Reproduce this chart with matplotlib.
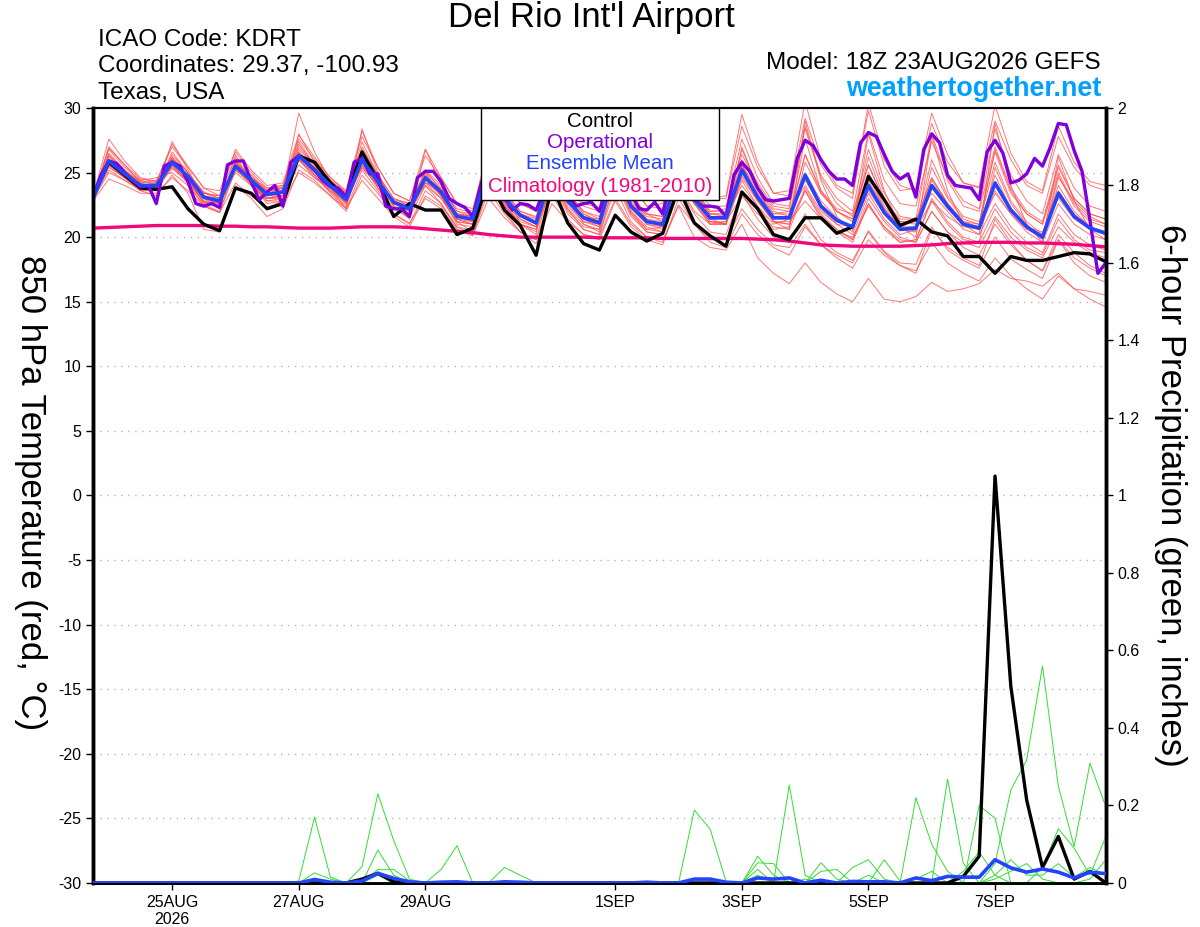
import numpy as np
import pandas as pd
import matplotlib
matplotlib.use("Agg")
import matplotlib.pyplot as plt
from matplotlib.patches import Rectangle
from matplotlib.ticker import FuncFormatter

plt.rcParams['font.family'] = ['Liberation Sans', 'DejaVu Sans']
plt.rcParams['axes.unicode_minus'] = False

# time axis: GEFS 18Z 23AUG2026, 6-hourly (ensemble) and 3-hourly (operational)
times = pd.date_range('2026-08-23 18:00', periods=65, freq='6h')
times_op = pd.date_range('2026-08-23 18:00', periods=129, freq='3h')

tick_dates = pd.to_datetime(['2026-08-25', '2026-08-27', '2026-08-29', '2026-09-01',
                             '2026-09-03', '2026-09-05', '2026-09-07'])
tick_labels = ['25AUG\n2026', '27AUG', '29AUG', '1SEP', '3SEP', '5SEP', '7SEP']

# 850 hPa temperature (C)
control_t = [23.2,
             25.8, 24.8, 23.8, 23.7, 23.9, 22.2, 21.0, 20.5, 23.8, 23.4, 22.2, 22.6,
             26.3, 25.8, 24.2, 23.1, 26.6, 24.4, 21.6, 22.6, 22.1, 22.1, 20.2, 20.7,
             24.5, 22.1, 20.9, 18.6, 24.0, 21.1, 19.5, 19.0, 21.7, 20.4, 19.7, 20.3,
             23.8, 21.1, 20.1, 19.3, 23.5, 22.2, 20.2, 19.8, 21.5, 21.5, 20.3, 20.8,
             24.7, 22.9, 20.9, 21.4, 20.4, 20.1, 18.5, 18.5, 17.2, 18.5, 18.2, 18.2,
             18.5, 18.8, 18.7, 18.1]

oper_t = [23.1, 24.8, 25.9, 25.7, 25.0, 24.4, 23.9, 24.0, 22.6, 25.5, 25.8, 25.5, 24.3,
          22.6, 22.4, 22.6, 22.3, 25.6, 25.9, 25.9, 24.3, 22.9, 23.5, 24.0, 22.4, 25.8,
          26.3, 25.8, 25.2, 24.4, 23.9, 23.8, 23.1, 25.8, 26.1, 24.9, 24.9, 22.4, 22.2,
          22.2, 21.6, 24.6, 25.1, 25.1, 24.3, 23.0, 22.6, 22.3, 21.6, 24.0, 26.0, 25.5,
          23.0, 22.1, 22.6, 22.5, 22.1, 23.5, 25.5, 25.5, 23.3, 22.4, 22.6, 22.7, 22.0,
          24.0, 25.8, 25.5, 23.4, 22.2, 22.1, 22.7, 21.8, 24.5, 25.8, 23.7, 22.9, 22.4,
          22.4, 22.3, 21.6, 24.8, 25.8, 25.1, 23.8, 22.9, 22.8, 22.9, 23.0, 26.1, 27.5,
          27.1, 26.0, 25.1, 24.5, 24.5, 24.0, 27.3, 28.1, 27.8, 26.4, 25.1, 24.5, 24.9,
          23.1, 26.8, 28.0, 27.3, 24.8, 24.0, 23.9, 23.8, 22.9, 26.6, 27.5, 26.5, 24.2,
          24.4, 24.9, 26.1, 25.5, 27.0, 28.8, 28.7, 26.7, 25.1, 21.3, 17.2, 18.0]

mean_t = [23.0,
          25.9, 24.9, 24.0, 24.0, 25.8, 24.7, 23.1, 22.8, 25.5, 24.4, 23.3, 23.5,
          26.3, 25.2, 24.0, 22.9, 26.0, 24.3, 22.7, 22.2, 24.6, 23.5, 21.6, 21.4,
          25.3, 23.0, 21.7, 21.1, 25.0, 22.8, 21.5, 21.1, 25.3, 22.4, 21.2, 21.0,
          25.0, 22.9, 21.5, 21.5, 25.2, 23.1, 21.5, 21.5, 24.8, 22.4, 21.3, 20.8,
          24.0, 21.9, 20.6, 20.7, 24.0, 22.4, 21.0, 20.7, 24.2, 22.1, 20.8, 20.0,
          23.4, 21.6, 20.7, 20.3]

clim_t = [20.7,
          20.75, 20.8, 20.85, 20.9, 20.9, 20.9, 20.9, 20.85, 20.85, 20.8, 20.8, 20.75,
          20.7, 20.7, 20.7, 20.75, 20.8, 20.8, 20.8, 20.75, 20.65, 20.55, 20.45, 20.35,
          20.2, 20.1, 20.0, 20.0, 20.0, 20.0, 20.0, 19.95, 19.95, 19.95, 19.95, 19.9,
          19.9, 19.9, 19.9, 19.9, 19.9, 19.85, 19.8, 19.7, 19.55, 19.4, 19.35, 19.3,
          19.3, 19.3, 19.3, 19.35, 19.4, 19.5, 19.55, 19.6, 19.6, 19.6, 19.55, 19.55,
          19.5, 19.45, 19.35, 19.25]

members_t = [
    [23.2, 27.6, 25.9, 24.6, 24.3, 27.2, 25.5, 23.8, 23.2, 26.8, 25.2, 24.0, 24.2, 27.9, 26.2, 24.6, 23.5,
     28.2, 25.4, 23.4, 22.8, 26.3, 24.6, 22.5, 22.0, 27.2, 24.5, 22.6, 22.0, 27.4, 24.4, 22.6, 22.3,
     28.0, 24.2, 22.4, 22.6, 28.3, 25.0, 23.0, 23.2, 29.5, 25.8, 23.4, 23.6, 30.5, 26.0, 24.0, 23.4,
     29.8, 25.5, 23.6, 23.8, 29.6, 26.4, 24.2, 23.9, 30.2, 26.5, 24.3, 23.6, 28.6, 25.8, 24.3, 24.0],
    [22.8, 24.5, 24.0, 23.4, 23.4, 24.6, 23.6, 22.4, 21.9, 24.2, 23.2, 22.3, 22.8, 25.0, 24.2, 23.2, 22.0,
     24.8, 23.4, 21.8, 21.1, 23.0, 22.2, 20.5, 20.1, 23.0, 21.5, 20.4, 19.5, 22.6, 21.2, 20.2, 20.0,
     23.0, 21.0, 20.0, 19.6, 22.5, 21.0, 19.8, 19.8, 22.2, 20.6, 19.4, 19.2, 21.0, 19.4, 18.6, 18.0,
     20.5, 18.9, 18.0, 17.9, 20.8, 19.0, 18.2, 17.6, 20.0, 18.3, 17.5, 16.8, 19.8, 18.0, 17.0, 16.5],
    [23.0, 26.5, 25.2, 24.2, 23.8, 26.2, 24.5, 22.7, 22.4, 25.8, 24.0, 22.8, 23.0, 26.5, 24.8, 23.5, 22.4,
     26.0, 23.8, 22.2, 21.5, 24.0, 22.6, 20.8, 20.5, 24.4, 22.4, 21.0, 20.4, 24.2, 21.8, 20.6, 20.2,
     23.8, 21.2, 20.0, 19.8, 22.4, 20.0, 19.2, 19.0, 21.0, 18.4, 17.2, 16.4, 18.0, 16.5, 15.6, 15.0,
     16.8, 15.2, 15.0, 15.4, 16.5, 15.8, 16.0, 16.4, 17.5, 16.8, 16.6, 16.2, 17.2, 16.0, 15.8, 15.5],
    [23.1, 26.2, 25.0, 24.3, 24.2, 25.6, 24.9, 23.5, 23.0, 25.2, 24.8, 23.6, 23.9, 26.0, 25.4, 24.4, 23.4,
     25.4, 24.0, 22.9, 22.6, 24.2, 23.8, 22.2, 21.9, 26.0, 23.6, 22.0, 21.5, 25.8, 23.4, 22.0, 21.4,
     26.4, 23.0, 21.8, 21.2, 26.2, 23.8, 22.0, 22.0, 26.8, 24.0, 22.2, 22.0, 25.0, 22.8, 21.5, 20.6,
     24.8, 22.2, 20.8, 20.5, 25.4, 23.0, 21.4, 21.0, 25.8, 22.8, 21.2, 20.2, 24.8, 22.4, 21.2, 20.8],
    [22.9, 25.4, 24.6, 23.8, 23.8, 26.1, 24.4, 22.7, 22.3, 25.9, 24.2, 23.0, 23.2, 27.2, 25.6, 24.0, 22.6,
     27.0, 24.8, 22.4, 21.6, 25.0, 23.2, 21.0, 20.8, 24.6, 22.4, 21.2, 20.8, 26.2, 23.4, 21.8, 21.2,
     25.8, 22.6, 21.0, 20.6, 24.0, 22.0, 21.0, 21.2, 23.2, 21.8, 20.8, 20.6, 23.6, 21.4, 20.4, 19.6,
     22.6, 20.6, 19.6, 19.8, 23.0, 21.2, 20.0, 19.6, 25.4, 22.6, 21.0, 19.8, 24.6, 22.8, 21.6, 21.0],
    [23.0, 25.8, 25.1, 24.4, 24.6, 25.0, 24.0, 22.5, 22.0, 25.4, 24.6, 23.8, 24.0, 26.6, 25.4, 24.2, 23.0,
     26.5, 24.6, 22.6, 22.0, 24.8, 23.2, 21.4, 21.0, 25.6, 23.2, 21.6, 21.0, 24.4, 22.6, 21.2, 20.8,
     25.0, 22.0, 20.8, 20.4, 25.6, 23.4, 21.8, 21.6, 24.0, 22.4, 21.0, 21.4, 26.4, 23.6, 22.2, 21.8,
     25.6, 22.8, 21.4, 21.4, 23.4, 22.0, 20.6, 20.2, 22.6, 20.8, 19.6, 18.8, 21.8, 20.2, 19.4, 19.0],
    [23.1, 26.4, 25.0, 23.9, 23.6, 26.6, 25.0, 23.4, 23.2, 26.2, 24.2, 22.8, 22.8, 26.0, 24.8, 23.6, 22.6,
     25.6, 24.2, 22.6, 22.3, 25.2, 24.0, 22.0, 21.6, 24.6, 22.6, 21.4, 20.8, 25.2, 23.0, 21.6, 21.4,
     26.0, 22.8, 21.4, 21.2, 25.4, 23.0, 21.2, 21.0, 24.4, 22.4, 20.6, 20.8, 25.8, 23.4, 22.0, 21.2,
     26.2, 23.0, 21.2, 21.2, 24.6, 22.6, 21.0, 20.8, 24.0, 22.0, 20.8, 20.4, 23.0, 21.4, 20.6, 20.4],
    [22.9, 25.6, 24.6, 23.6, 23.9, 25.9, 24.8, 23.0, 22.6, 25.0, 24.0, 23.0, 23.4, 26.8, 25.6, 24.4, 23.2,
     26.4, 24.4, 22.8, 22.4, 24.0, 23.0, 21.2, 21.0, 25.0, 22.8, 21.6, 21.2, 25.4, 23.0, 21.6, 21.0,
     24.6, 22.0, 20.6, 20.8, 25.2, 23.0, 21.6, 21.4, 25.4, 23.4, 21.8, 22.0, 24.0, 22.0, 21.0, 20.2,
     23.4, 21.4, 20.2, 20.6, 22.8, 21.6, 20.8, 20.6, 23.6, 21.8, 20.4, 19.6, 22.6, 21.0, 20.2, 19.8],
    [23.0, 26.0, 24.8, 24.0, 24.1, 25.4, 24.2, 22.8, 22.6, 25.6, 24.6, 23.6, 23.6, 29.6, 26.6, 24.4, 23.0,
     26.2, 24.0, 22.4, 21.8, 24.6, 23.4, 21.8, 21.4, 25.8, 23.2, 21.8, 21.2, 24.8, 22.4, 21.2, 21.0,
     26.6, 23.2, 21.8, 21.6, 25.8, 23.6, 22.0, 22.2, 27.6, 24.6, 22.6, 22.4, 28.4, 24.6, 22.6, 21.6,
     26.8, 23.4, 21.6, 21.4, 28.0, 24.4, 22.4, 22.0, 27.0, 23.8, 22.0, 21.2, 25.6, 23.0, 21.8, 21.4],
    [23.0, 25.2, 24.4, 23.8, 23.6, 25.5, 24.4, 22.6, 22.4, 25.8, 24.8, 23.4, 23.2, 25.6, 24.6, 23.8, 22.8,
     25.4, 24.0, 22.8, 22.0, 24.2, 23.4, 21.8, 21.6, 25.2, 22.6, 21.0, 20.6, 24.4, 22.0, 20.8, 20.6,
     24.8, 21.8, 20.6, 20.4, 24.6, 22.6, 21.0, 21.0, 24.6, 22.8, 21.2, 21.0, 23.6, 21.6, 20.6, 19.8,
     22.6, 20.8, 19.6, 19.8, 22.8, 21.0, 19.8, 19.6, 22.2, 20.4, 19.2, 18.6, 21.4, 19.8, 19.0, 18.8],
    [23.1, 26.8, 25.4, 24.4, 24.0, 26.4, 25.0, 23.2, 22.8, 25.9, 24.4, 23.4, 23.6, 27.4, 25.6, 24.2, 23.0,
     27.4, 24.8, 22.6, 22.2, 25.2, 23.6, 21.6, 21.2, 25.8, 23.4, 21.8, 21.4, 25.0, 22.8, 21.4, 21.2,
     25.4, 22.6, 21.2, 21.0, 25.2, 23.2, 21.8, 21.8, 26.0, 23.8, 22.0, 21.6, 27.6, 23.6, 22.0, 21.4,
     25.6, 22.8, 21.2, 21.0, 26.0, 23.2, 21.6, 21.2, 26.6, 23.4, 21.8, 21.0, 25.0, 22.6, 21.4, 21.0],
    [22.9, 26.0, 25.0, 24.0, 24.0, 25.8, 24.6, 23.0, 22.6, 25.2, 24.2, 23.2, 23.4, 26.2, 25.0, 23.8, 22.8,
     25.8, 24.2, 22.6, 22.2, 24.4, 23.2, 21.4, 21.2, 24.8, 23.0, 21.6, 21.0, 25.6, 23.0, 21.4, 21.0,
     25.0, 22.2, 21.0, 20.8, 24.8, 22.6, 21.2, 21.2, 25.6, 23.2, 21.4, 21.4, 24.6, 22.2, 21.0, 20.8,
     24.2, 21.8, 20.6, 20.4, 24.4, 22.6, 21.2, 20.8, 24.8, 22.2, 20.8, 20.2, 24.0, 22.0, 20.8, 20.4],
    [23.0, 25.6, 24.8, 24.2, 24.4, 26.0, 24.8, 23.2, 23.0, 25.4, 24.4, 23.6, 23.8, 26.4, 25.2, 24.0, 22.8,
     26.2, 24.4, 22.8, 22.4, 24.6, 23.4, 21.8, 21.6, 25.4, 23.0, 21.8, 21.2, 25.2, 22.8, 21.6, 21.2,
     25.6, 22.6, 21.4, 21.0, 25.0, 22.8, 21.4, 21.4, 25.2, 23.0, 21.6, 21.6, 24.4, 22.4, 21.4, 20.8,
     23.6, 21.8, 20.6, 20.6, 23.8, 22.2, 21.0, 20.6, 23.4, 21.8, 20.6, 20.0, 23.2, 21.6, 20.6, 20.2],
    [23.2, 26.3, 25.2, 24.1, 23.8, 25.3, 24.4, 23.0, 22.8, 25.6, 24.4, 23.0, 23.2, 26.0, 24.6, 23.6, 22.8,
     26.6, 24.8, 23.0, 22.4, 24.8, 23.6, 21.6, 21.4, 25.0, 22.8, 21.6, 21.0, 25.6, 23.2, 21.8, 21.2,
     25.2, 22.4, 21.2, 20.8, 24.6, 22.6, 21.2, 21.0, 24.8, 22.8, 21.2, 21.2, 22.8, 21.4, 20.4, 20.0,
     22.4, 20.8, 19.8, 19.6, 22.0, 20.4, 19.6, 19.2, 21.6, 20.0, 19.0, 18.4, 20.8, 19.6, 18.8, 18.4],
    [22.8, 25.9, 25.0, 24.0, 23.7, 26.0, 24.6, 23.2, 22.6, 25.6, 24.6, 23.4, 23.4, 26.6, 25.4, 24.2, 23.0,
     25.8, 24.0, 22.6, 22.0, 24.6, 23.2, 21.4, 21.0, 24.8, 22.6, 21.4, 20.8, 25.4, 23.0, 21.4, 20.8,
     26.4, 23.0, 21.6, 21.4, 26.0, 23.4, 21.8, 21.8, 25.6, 23.2, 21.6, 21.6, 26.4, 23.4, 22.0, 21.4,
     25.0, 22.4, 21.0, 21.2, 24.6, 22.6, 21.2, 21.0, 26.8, 23.6, 21.8, 21.0, 25.4, 23.0, 21.8, 21.4],
    [23.0, 25.7, 24.9, 24.0, 24.2, 26.2, 25.0, 23.4, 23.0, 25.7, 24.6, 23.4, 23.8, 27.0, 25.6, 24.4, 23.4,
     26.8, 24.8, 23.0, 22.6, 25.0, 23.8, 22.0, 21.8, 25.8, 23.4, 22.0, 21.6, 25.6, 23.4, 22.0, 21.6,
     25.8, 23.0, 21.8, 21.6, 26.6, 24.0, 22.4, 22.4, 26.4, 24.2, 22.4, 22.2, 28.6, 24.8, 23.0, 22.0,
     28.2, 24.4, 22.6, 22.4, 27.4, 24.6, 22.8, 22.2, 28.4, 24.8, 22.8, 21.8, 26.4, 23.8, 22.4, 22.0],
    [23.0, 25.8, 24.6, 23.6, 23.6, 25.6, 24.4, 22.8, 22.4, 25.4, 24.0, 23.0, 23.2, 26.0, 25.0, 23.8, 22.6,
     25.6, 23.8, 22.2, 21.8, 24.2, 23.0, 21.2, 21.0, 24.6, 22.4, 21.0, 20.6, 24.4, 22.2, 21.0, 20.6,
     24.2, 21.6, 20.4, 20.2, 23.8, 21.8, 20.4, 20.2, 23.4, 21.4, 20.0, 19.6, 21.8, 19.8, 18.8, 18.2,
     20.4, 18.8, 17.8, 17.4, 19.6, 18.0, 17.2, 16.6, 18.4, 17.0, 16.0, 15.2, 17.0, 16.0, 15.2, 14.6],
    [23.1, 26.0, 25.1, 24.1, 24.0, 25.9, 24.8, 23.4, 23.2, 25.4, 24.4, 23.6, 23.8, 26.5, 25.2, 23.8, 22.8,
     26.0, 24.2, 22.6, 22.2, 24.6, 23.6, 21.8, 21.6, 25.2, 23.0, 21.8, 21.2, 25.0, 22.8, 21.6, 21.2,
     25.4, 22.4, 21.2, 21.0, 25.2, 23.0, 21.6, 21.6, 25.6, 23.6, 21.8, 21.8, 24.6, 22.4, 21.2, 20.8,
     24.4, 22.2, 20.8, 20.8, 24.0, 22.4, 21.0, 20.6, 24.0, 22.0, 20.8, 20.0, 23.6, 21.8, 20.8, 20.4],
    [23.1, 26.9, 25.6, 24.5, 24.3, 27.0, 25.4, 23.8, 23.6, 26.6, 25.0, 23.8, 24.0, 27.6, 26.0, 24.6, 23.6,
     27.8, 25.4, 23.4, 22.8, 26.8, 24.6, 22.6, 22.2, 26.6, 24.4, 22.6, 22.0, 26.8, 24.2, 22.4, 22.0,
     27.2, 24.0, 22.4, 22.2, 27.8, 24.8, 23.0, 23.0, 28.6, 25.4, 23.4, 23.2, 29.2, 25.6, 23.8, 23.0,
     30.4, 26.0, 24.0, 23.6, 28.8, 25.8, 24.2, 23.8, 29.0, 26.0, 24.0, 23.4, 27.8, 25.4, 24.0, 23.6],
    [22.9, 25.0, 24.4, 23.6, 23.2, 24.8, 23.4, 20.6, 20.4, 24.0, 23.0, 21.6, 22.2, 25.2, 24.4, 23.2, 22.2,
     24.4, 23.0, 21.6, 20.8, 23.2, 22.4, 20.8, 20.2, 23.6, 21.8, 20.4, 19.8, 23.2, 21.4, 20.2, 19.8,
     22.8, 20.8, 19.8, 19.4, 23.0, 21.0, 19.6, 19.2, 21.8, 20.2, 19.2, 18.6, 20.8, 19.4, 18.4, 17.6,
     19.8, 18.6, 17.8, 17.2, 20.6, 19.2, 18.4, 17.8, 21.4, 19.6, 18.2, 17.4, 19.8, 18.4, 17.6, 17.0],
    [23.0, 27.0, 25.6, 24.2, 23.6, 27.4, 25.2, 23.0, 22.2, 26.4, 24.2, 22.6, 22.8, 28.0, 25.8, 23.8, 22.2,
     28.4, 25.0, 22.4, 21.4, 26.8, 24.0, 21.2, 20.4, 27.4, 23.8, 21.0, 20.2, 27.6, 23.6, 21.0, 20.4,
     28.4, 23.8, 21.2, 20.8, 28.0, 24.0, 21.4, 21.0, 27.0, 23.8, 21.2, 20.6, 29.0, 24.4, 21.6, 20.4,
     28.0, 23.6, 20.8, 20.0, 27.8, 23.6, 21.0, 20.2, 28.8, 24.0, 21.0, 19.6, 26.2, 22.8, 20.6, 19.8],
    [23.0, 25.5, 24.6, 23.9, 23.9, 25.6, 24.2, 22.4, 21.9, 25.2, 24.2, 23.0, 23.0, 26.0, 24.8, 23.4, 22.2,
     25.2, 23.6, 21.8, 21.0, 23.6, 22.6, 20.6, 20.2, 24.0, 22.0, 20.4, 19.8, 24.6, 22.2, 20.6, 20.2,
     24.4, 21.8, 20.4, 20.2, 24.8, 22.6, 21.0, 21.0, 25.4, 23.0, 21.2, 21.0, 23.8, 21.8, 20.6, 19.8,
     23.0, 21.2, 20.0, 19.6, 22.0, 20.4, 19.2, 18.6, 21.0, 19.4, 18.2, 17.4, 20.2, 18.8, 17.8, 17.2],
]

# 6-hour precipitation (inches), only the non-zero steps (index -> value)
control_p = {17: 0.01, 18: 0.025, 19: 0.003, 55: 0.017, 56: 0.069, 57: 1.05, 58: 0.507,
             59: 0.214, 60: 0.04, 61: 0.12, 62: 0.01, 63: 0.03}
mean_p = {14: 0.009, 15: 0.002, 17: 0.005, 18: 0.025, 19: 0.012, 20: 0.003, 22: 0.002,
          23: 0.003, 26: 0.003, 27: 0.002, 35: 0.002, 38: 0.01, 39: 0.01, 40: 0.002,
          42: 0.013, 43: 0.01, 44: 0.013, 46: 0.007, 48: 0.004, 49: 0.003, 50: 0.003,
          52: 0.013, 53: 0.006, 54: 0.017, 55: 0.015, 56: 0.015, 57: 0.06, 58: 0.039,
          59: 0.028, 60: 0.036, 61: 0.028, 62: 0.013, 63: 0.028, 64: 0.024}
members_p = [
    {13: 0.005, 14: 0.17, 15: 0.015, 38: 0.188, 39: 0.139, 40: 0.004},
    {17: 0.042, 18: 0.23, 19: 0.11, 20: 0.01, 22: 0.035, 23: 0.096},
    {14: 0.026, 15: 0.01, 18: 0.085, 19: 0.02, 26: 0.04, 27: 0.02, 44: 0.253, 45: 0.02},
    {18: 0.035, 19: 0.035, 20: 0.005, 42: 0.069, 43: 0.02, 46: 0.052, 47: 0.01,
     52: 0.22, 53: 0.1, 54: 0.03},
    {18: 0.02, 42: 0.052, 43: 0.05, 48: 0.04, 49: 0.06, 50: 0.01, 54: 0.268, 55: 0.05},
    {26: 0.005, 42: 0.035, 46: 0.03, 47: 0.035, 50: 0.06, 51: 0.005, 56: 0.2, 57: 0.167},
    {57: 0.05, 58: 0.24, 59: 0.317, 60: 0.56, 61: 0.25, 62: 0.094, 63: 0.309, 64: 0.197},
    {42: 0.02, 55: 0.03, 56: 0.08, 57: 0.02, 60: 0.04, 61: 0.14, 62: 0.09, 63: 0.02, 64: 0.12},
    {35: 0.003, 52: 0.01, 53: 0.03, 57: 0.02, 58: 0.06, 59: 0.02, 60: 0.02, 61: 0.05,
     62: 0.015, 63: 0.04, 64: 0.02},
    {14: 0.005, 45: 0.01, 49: 0.02, 57: 0.01, 58: 0.03, 59: 0.05, 60: 0.01, 63: 0.01, 64: 0.06},
]


def steps(d):
    arr = np.zeros(len(times))
    for k, v in d.items():
        arr[k] = v
    return arr


fig = plt.figure(figsize=(12, 9.27), dpi=100)
ax = fig.add_axes([0.0775, 0.0475, 0.844, 0.836])
ax2 = ax.twinx()

# temperature
for m in members_t:
    ax.plot(times, m, color='#ff4a4a', lw=0.7, alpha=0.75, zorder=2)
ax.plot(times, clim_t, color='#f0087c', lw=2.4, zorder=4)
ax.plot(times, control_t, color='black', lw=2.4, zorder=5)
ax.plot(times_op, oper_t, color='#8000dc', lw=2.4, zorder=6)
ax.plot(times, mean_t, color='#2244ff', lw=2.6, zorder=7)

# precipitation
for m in members_p:
    ax2.plot(times, steps(m), color='#33dd33', lw=0.7, zorder=2)
ax2.plot(times, steps(control_p), color='black', lw=2.4, zorder=4)
ax2.plot(times, steps(mean_p), color='#2244ff', lw=2.6, zorder=5)

ax.set_xlim(times[0], times[-1])
ax.set_ylim(-30, 30)
ax2.set_ylim(0, 2)

ax.set_yticks(np.arange(-30, 31, 5))
ax2.set_yticks(np.arange(0, 2.01, 0.2))
ax2.yaxis.set_major_formatter(FuncFormatter(lambda v, p: '%g' % round(v, 1)))
ax.set_xticks(tick_dates)
ax.set_xticklabels(tick_labels)

for g in np.arange(-25, 26, 5):
    ax.axhline(g, color='#b4b4b4', lw=1.0, ls=(0, (1, 4)), zorder=1)

ax.tick_params(axis='both', direction='out', length=5, width=1, labelsize=11.5)
ax2.tick_params(axis='y', direction='out', length=5, width=1, labelsize=11.5)

for a in (ax, ax2):
    a.spines['left'].set_linewidth(2.5)
    a.spines['right'].set_linewidth(2.5)
    a.spines['top'].set_linewidth(1.5)
    a.spines['bottom'].set_linewidth(2.0)

# legend box
ax2.add_patch(Rectangle((0.383, 0.881), 0.235, 0.119, transform=ax2.transAxes,
                        facecolor='white', edgecolor='black', lw=1.0, zorder=10))
legend_items = [('Control', 'black', 0.983), ('Operational', '#8000dc', 0.956),
                ('Ensemble Mean', '#2244ff', 0.929), ('Climatology (1981-2010)', '#f0087c', 0.899)]
for txt, col, yy in legend_items:
    ax2.text(0.5005, yy, txt, color=col, fontsize=14.8, ha='center', va='center',
             transform=ax2.transAxes, zorder=11)

# header and axis titles
fig.text(591 / 1200, 1 - 18 / 927, "Del Rio Int'l Airport", fontsize=25, ha='center', va='center')
fig.text(98 / 1200, 1 - 40 / 927, 'ICAO Code: KDRT', fontsize=17.5, ha='left', va='center')
fig.text(98 / 1200, 1 - 66 / 927, 'Coordinates: 29.37, -100.93', fontsize=17.5, ha='left', va='center')
fig.text(98 / 1200, 1 - 93 / 927, 'Texas, USA', fontsize=17.5, ha='left', va='center')
fig.text(1101 / 1200, 1 - 63 / 927, 'Model: 18Z 23AUG2026 GEFS', fontsize=17.5, ha='right', va='center')
fig.text(1101 / 1200, 1 - 89 / 927, 'weathertogether.net', fontsize=19.4, fontweight='bold',
         color='#00a0ff', ha='right', va='center')
fig.text(30 / 1200, 1 - 493 / 927, '850 hPa Temperature (red, °C)', fontsize=25,
         rotation=270, ha='center', va='center')
fig.text(1170 / 1200, 1 - 495 / 927, '6-hour Precipitation (green, inches)', fontsize=25,
         rotation=270, ha='center', va='center')

fig.savefig('out.png', dpi=100)
